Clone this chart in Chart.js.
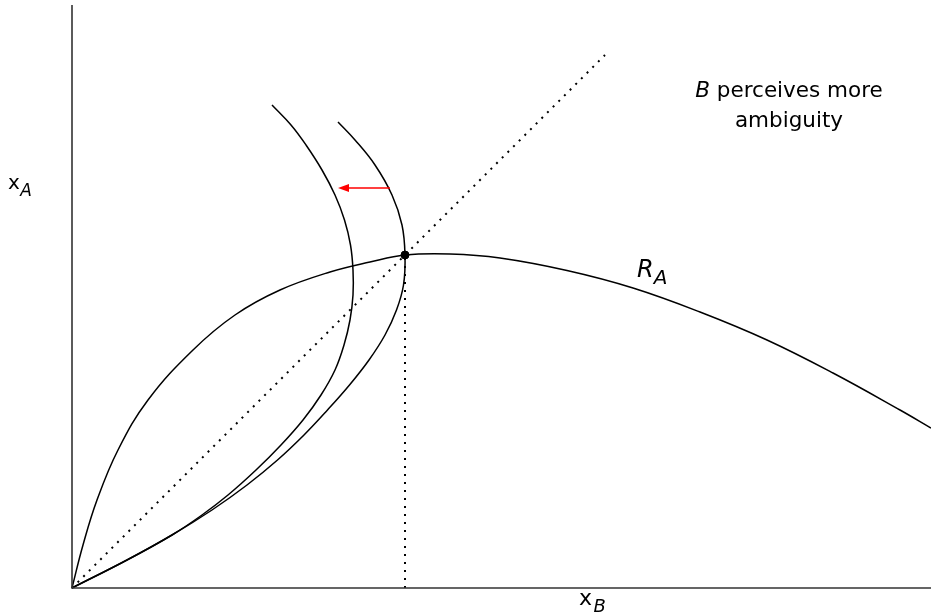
<!DOCTYPE html>
<html>
<head>
<meta charset="utf-8">
<script src="https://cdn.jsdelivr.net/npm/chart.js@4/dist/chart.umd.min.js"></script>
<style>
  html, body { margin: 0; padding: 0; background: #fff; }
  #wrap { width: 931px; height: 616px; position: relative; }
</style>
</head>
<body>
<div id="wrap"><canvas id="chart"></canvas></div>
<script>
// axis extents
const xMax = 8.59;
const yMax = 5.83;

// A's reaction curve R_A
const raX = [0, 0.11, 0.25, 0.46, 0.76, 1.21, 1.63, 2.08, 2.58, 2.98, 3.33, 3.78, 4.28, 4.95, 5.61, 6.28, 6.95, 7.61, 8.28, 8.59];
const raY = [0, 0.43, 0.88, 1.38, 1.88, 2.38, 2.73, 2.98, 3.16, 3.26, 3.33, 3.34, 3.30, 3.175, 3.00, 2.76, 2.48, 2.15, 1.78, 1.60];

// B's reaction curve (baseline)
const rbX = [0, 0.55, 1.00, 1.40, 1.75, 2.055, 2.32, 2.555, 2.775, 2.97, 3.13, 3.245, 3.315, 3.33, 3.30, 3.20, 3.03, 2.83, 2.66];
const rbY = [0, 0.28, 0.53, 0.78, 1.03, 1.28, 1.53, 1.78, 2.03, 2.28, 2.53, 2.78, 3.03, 3.33, 3.63, 3.93, 4.23, 4.48, 4.66];

// B's reaction curve with more ambiguity
const rb2X = [0, 0.55, 1.00, 1.30, 1.56, 1.84, 2.09, 2.31, 2.49, 2.63, 2.72, 2.78, 2.81, 2.81, 2.785, 2.725, 2.63, 2.50, 2.34, 2.19, 2.00];
const rb2Y = [0, 0.28, 0.53, 0.73, 0.93, 1.18, 1.43, 1.68, 1.93, 2.18, 2.43, 2.68, 2.93, 3.18, 3.43, 3.68, 3.93, 4.18, 4.43, 4.63, 4.83];

// equilibrium point and 45 degree line
const eqX = 3.33, eqY = 3.33;
const diagEnd = 5.33;

// shift arrow (from -> to)
const arrowX = [3.18, 2.66];
const arrowY = [4.0, 4.0];

const pts = (xs, ys) => xs.map((x, i) => ({ x: x, y: ys[i] }));

const curve = (data) => ({
  data: data,
  showLine: true,
  borderColor: '#000',
  borderWidth: 1.5,
  pointRadius: 0,
  tension: 0.4,
  fill: false,
  clip: false
});

const dotted = (data) => ({
  data: data,
  showLine: true,
  borderColor: '#000',
  borderWidth: 2,
  borderDash: [2, 6],
  borderCapStyle: 'butt',
  pointRadius: 0,
  tension: 0,
  clip: false
});

// text, arrow drawn on top
const annotations = {
  id: 'annotations',
  afterDatasetsDraw(chart) {
    const ctx = chart.ctx;
    const sx = chart.scales.x, sy = chart.scales.y;
    const area = chart.chartArea;
    ctx.save();

    // red arrow
    const x0 = sx.getPixelForValue(arrowX[0]), x1 = sx.getPixelForValue(arrowX[1]);
    const y0 = sy.getPixelForValue(arrowY[0]), y1 = sy.getPixelForValue(arrowY[1]);
    ctx.strokeStyle = '#ff0000';
    ctx.fillStyle = '#ff0000';
    ctx.lineWidth = 1.4;
    ctx.beginPath();
    ctx.moveTo(x0, y0);
    ctx.lineTo(x1 + 8, y1);
    ctx.stroke();
    ctx.beginPath();
    ctx.moveTo(x1, y1);
    ctx.lineTo(x1 + 11, y1 - 4);
    ctx.lineTo(x1 + 11, y1 + 4);
    ctx.closePath();
    ctx.fill();

    // mixed-style text runs
    ctx.fillStyle = '#000';
    ctx.textBaseline = 'alphabetic';
    ctx.textAlign = 'left';
    const runs = (x, y, parts) => {
      let cx = x;
      parts.forEach(p => {
        ctx.font = p.font;
        ctx.fillText(p.t, cx, y + (p.dy || 0));
        cx += ctx.measureText(p.t).width + (p.gap || 0);
      });
    };
    const width = (parts) => parts.reduce((w, p) => {
      ctx.font = p.font;
      return w + ctx.measureText(p.t).width + (p.gap || 0);
    }, 0);

    const fam = '"DejaVu Sans", sans-serif';
    const line1 = [
      { t: 'B', font: 'italic 21.5px ' + fam },
      { t: ' perceives more', font: '21.5px ' + fam }
    ];
    const line2 = [{ t: 'ambiguity', font: '21.5px ' + fam }];
    const cx = 789;
    runs(cx - width(line1) / 2, 97, line1);
    runs(cx - width(line2) / 2, 127, line2);

    // axis labels
    runs(area.left - 64, 189, [
      { t: 'x', font: '20px ' + fam, gap: 0.5 },
      { t: 'A', font: 'italic 17px ' + fam, dy: 7 }
    ]);
    runs(579, area.bottom + 17, [
      { t: 'x', font: '22px ' + fam, gap: 1.5 },
      { t: 'B', font: 'italic 18px ' + fam, dy: 7 }
    ]);

    // curve label
    runs(637, 277, [
      { t: 'R', font: 'italic 24px ' + fam },
      { t: 'A', font: 'italic 20px ' + fam, dy: 7 }
    ]);

    ctx.restore();
  }
};

new Chart(document.getElementById('chart'), {
  type: 'scatter',
  data: {
    datasets: [
      // axes
      {
        data: [{ x: 0, y: yMax }, { x: 0, y: 0 }, { x: xMax, y: 0 }],
        showLine: true, borderColor: '#333', borderWidth: 1.6, pointRadius: 0, clip: false
      },
      curve(pts(raX, raY)),
      curve(pts(rbX, rbY)),
      curve(pts(rb2X, rb2Y)),
      dotted([{ x: 0, y: 0 }, { x: diagEnd, y: diagEnd }]),
      dotted([{ x: eqX, y: 0 }, { x: eqX, y: eqY }]),
      {
        data: [{ x: eqX, y: eqY }],
        pointRadius: 4,
        pointBackgroundColor: '#000',
        pointBorderColor: '#000',
        clip: false
      }
    ]
  },
  options: {
    responsive: true,
    maintainAspectRatio: false,
    animation: false,
    events: [],
    layout: { autoPadding: false, padding: { left: 72, top: 5, right: 0, bottom: 28 } },
    scales: {
      x: { type: 'linear', min: 0, max: xMax, display: false },
      y: { type: 'linear', min: 0, max: yMax, display: false }
    },
    plugins: {
      legend: { display: false },
      tooltip: { enabled: false }
    }
  },
  plugins: [annotations]
});
</script>
</body>
</html>
